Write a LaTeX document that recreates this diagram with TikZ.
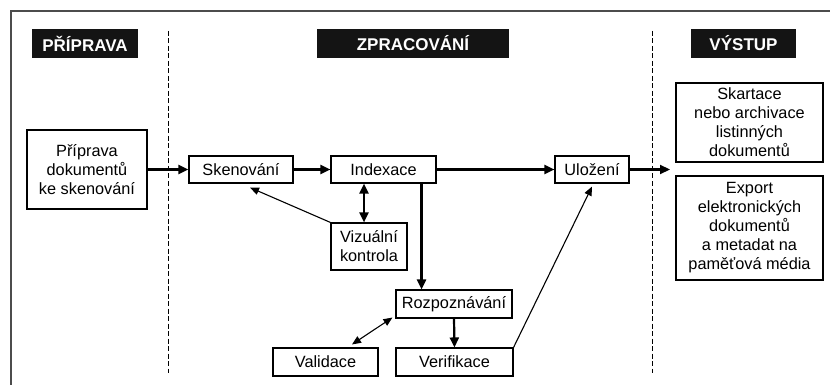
\documentclass[tikz,border=0pt]{standalone}
\usepackage{fontspec}
\setmainfont{Liberation Sans}
\usetikzlibrary{arrows.meta,calc}
\begin{document}
\begin{tikzpicture}[x=1pt,y=-1pt,
  box/.style={draw=black,line width=1.1pt,align=center,inner sep=1pt,
    font=\fontsize{16.3}{19}\selectfont},
  head/.style={fill=black!92,text=white,minimum height=29pt,inner sep=0pt,
    font=\fontsize{17}{19}\selectfont\bfseries},
  thick arrow/.style={line width=2.2pt,-{Triangle[length=10pt,width=9pt]}},
  thick both/.style={line width=2.2pt,{Triangle[length=10pt,width=9pt]}-{Triangle[length=10pt,width=9pt]}},
  thin arrow/.style={line width=1.1pt,-{Triangle[length=9pt,width=7.5pt]}},
  thin both/.style={line width=1.1pt,{Triangle[length=9pt,width=7.5pt]}-{Triangle[length=9pt,width=7.5pt]}},
  divider/.style={line width=0.9pt,dash pattern=on 5pt off 2.5pt}
]
\useasboundingbox (0,0) rectangle (830,385);
% frame
\draw[line width=1.3pt,black!70] (830,11) -- (11,11) -- (11,385);
% dividers
\coordinate (d1t) at (168,31); \coordinate (d1b) at (168,373);
\coordinate (d2t) at (652,31); \coordinate (d2b) at (652,373);
\draw[divider] (d1t) -- (d1b);
\draw[divider] (d2t) -- (d2b);
% headers
\node[head,minimum width=106pt] (h1) at (85,43.5) {PŘÍPRAVA};
\node[head,minimum width=192pt] (h2) at (413,43.5) {ZPRACOVÁNÍ};
\node[head,minimum width=105pt] (h3) at (743.5,43.5) {VÝSTUP};
% boxes
\node[box,minimum width=120pt,minimum height=79pt] (prip) at (87,169.5) {Příprava\\dokumentů\\ke skenování};
\node[box,minimum width=104pt,minimum height=27pt] (sken) at (241,169.5) {Skenování};
\node[box,minimum width=105pt,minimum height=27pt] (idx) at (383.5,169.5) {Indexace};
\node[box,minimum width=74pt,minimum height=27pt] (ulo) at (592,169.5) {Uložení};
\node[box,minimum width=147pt,minimum height=79pt] (skart) at (749.5,122.5) {Skartace\\nebo archivace\\listinných\\dokumentů};
\node[box,minimum width=147pt,minimum height=104pt] (exp) at (749.5,228) {Export\\elektronických\\dokumentů\\a metadat na\\paměťová média};
\node[box,minimum width=76pt,minimum height=47pt] (viz) at (369,246.5) {Vizuální\\kontrola};
\node[box,minimum width=116pt,minimum height=28pt] (roz) at (454,304) {Rozpoznávání};
\node[box,minimum width=105pt,minimum height=28pt] (val) at (325.5,362) {Validace};
\node[box,minimum width=117pt,minimum height=28pt] (ver) at (454.5,362) {Verifikace};
% connectors
\coordinate (out) at (670,169.5);
\draw[thick arrow] (prip.east) -- (sken.west);
\draw[thick arrow] (sken.east) -- (idx.west);
\draw[thick arrow] (idx.east) -- (ulo.west);
\draw[thick arrow] (ulo.east) -- (out);
\coordinate (ivtop) at ($(idx.south)+(-19.5,0)$);
\coordinate (ivbot) at ($(viz.north)+(-5,0)$);
\draw[thick both] (ivtop) -- (ivbot);
\coordinate (skentip) at ($(sken.south)+(9,4)$);
\draw[thin arrow] (viz.north west) -- (skentip);
\coordinate (irtop) at ($(idx.south east)+(-15,0)$);
\draw[thick arrow] (irtop) -- (irtop |- roz.north);
\draw[thick arrow] (roz.south) -- (ver.north);
\coordinate (vtip) at ($(val.north)+(26.5,-3)$);
\coordinate (rtip) at ($(roz.south west)+(-3,-1)$);
\draw[thin both] (vtip) -- (rtip);
\coordinate (ulotip) at ($(ulo.south)+(0,3)$);
\draw[thin arrow] (ver.north east) -- (ulotip);
\end{tikzpicture}
\end{document}
